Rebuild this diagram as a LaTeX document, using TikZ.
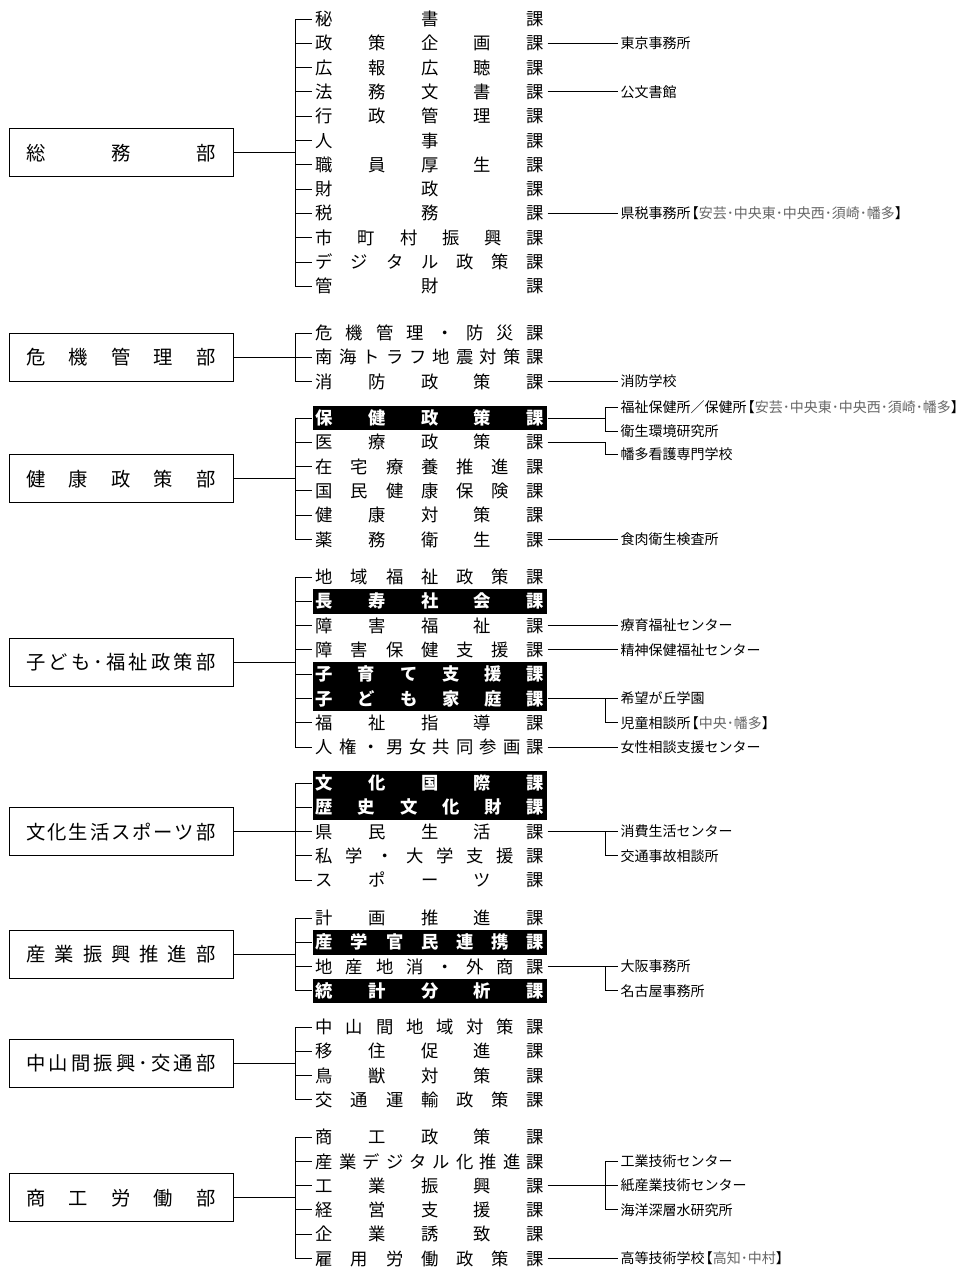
\documentclass[tikz,border=0pt]{standalone}
\usepackage{fontspec}
\setmainfont{Noto Sans CJK JP}
\usetikzlibrary{calc}
\definecolor{subgray}{gray}{0.4}
\def\spreadloop#1#2{#1\ifx\relax#2\expandafter\spreadstop\else\hfill\expandafter\spreadloop\fi#2}
\def\spreadstop#1{}
\newcommand\spreadbox[2]{\makebox[#1]{\expandafter\spreadloop#2\relax}}
\newcommand\bracketsub[1]{\kern-.4em【{\color{subgray}#1}】}

\begin{document}
\begin{tikzpicture}[x=0.75pt,y=-0.75pt,line width=0.75pt,
		ka/.style={anchor=west,minimum height=18.4pt,inner xsep=2.5pt,inner ysep=0pt,font=\fontsize{13pt}{13pt}\selectfont},
		kahi/.style={ka,fill=black,text=white,font=\fontsize{13pt}{13pt}\selectfont\bfseries},
		bu/.style={draw,minimum width=168pt,minimum height=36pt,inner sep=0pt,font=\fontsize{14.5pt}{14.5pt}\selectfont},
		ext/.style={anchor=west,inner xsep=1.5pt,inner ysep=0pt,font=\fontsize{10.5pt}{10.5pt}\selectfont}]
		\useasboundingbox (0,0) rectangle (973,1268);
		\coordinate (R) at (618,0);
		\coordinate (H) at (605,0);
		\foreach \s/\yy/\n/\bu/\rows in {
			1/19/12/総務部/{ka/秘書課,ka/政策企画課,ka/広報広聴課,ka/法務文書課,ka/行政管理課,ka/人事課,ka/職員厚生課,ka/財政課,ka/税務課,ka/市町村振興課,ka/デジタル政策課,ka/管財課},
			2/333/3/危機管理部/{ka/危機管理・防災課,ka/南海トラフ地震対策課,ka/消防政策課},
			3/418/6/健康政策部/{kahi/保健政策課,ka/医療政策課,ka/在宅療養推進課,ka/国民健康保険課,ka/健康対策課,ka/薬務衛生課},
			4/577/8/子ども･福祉政策部/{ka/地域福祉政策課,kahi/長寿社会課,ka/障害福祉課,ka/障害保健支援課,kahi/子育て支援課,kahi/子ども家庭課,ka/福祉指導課,ka/人権・男女共同参画課},
			5/783/5/文化生活スポーツ部/{kahi/文化国際課,kahi/歴史文化財課,ka/県民生活課,ka/私学・大学支援課,ka/スポーツ課},
			6/918/4/産業振興推進部/{ka/計画推進課,kahi/産学官民連携課,ka/地産地消・外商課,kahi/統計分析課},
			7/1027/4/中山間振興･交通部/{ka/中山間地域対策課,ka/移住促進課,ka/鳥獣対策課,ka/交通運輸政策課},
			8/1137/6/商工労働部/{ka/商工政策課,ka/産業デジタル化推進課,ka/工業振興課,ka/経営支援課,ka/企業誘致課,ka/雇用労働政策課}}{
			\node[bu] (B\s) at (121,{\yy+(\n-1)*12.15}) {\spreadbox{141.75pt}{\bu}};
			\coordinate (J\s) at (295,{\yy+(\n-1)*12.15});
			\draw (B\s.east) -- (J\s);
			\foreach \st/\ka [count=\i] in \rows {
				\node[\st] (K\s-\i) at (312,{\yy+(\i-1)*24.3}) {\spreadbox{171pt}{\ka}};
				\draw (J\s |- K\s-\i.west) -- (K\s-\i.west);
			}
			\draw (J\s |- K\s-1.west) -- (J\s |- K\s-\n.west);
		}
		\node[ext] (T1) at (K1-2 -| R) {東京事務所};
		\node[ext] (T2) at (K1-4 -| R) {公文書館};
		\node[ext] (T3) at (K1-9 -| R) {県税事務所\bracketsub{安芸･中央東･中央西･須崎･幡多}};
		\node[ext] (T4) at (K2-3 -| R) {消防学校};
		\node[ext] (T5) at ($(K3-1 -| R)+(0,-11)$) {福祉保健所／保健所\bracketsub{安芸･中央東･中央西･須崎･幡多}};
		\node[ext] (T6) at ($(K3-1 -| R)+(0,13)$) {衛生環境研究所};
		\node[ext] (T7) at ($(K3-2 -| R)+(0,12)$) {幡多看護専門学校};
		\node[ext] (T8) at (K3-6 -| R) {食肉衛生検査所};
		\node[ext] (T9) at (K4-3 -| R) {療育福祉センター};
		\node[ext] (T10) at (K4-4 -| R) {精神保健福祉センター};
		\node[ext] (T11) at (K4-6 -| R) {希望が丘学園};
		\node[ext] (T12) at (K4-7 -| R) {児童相談所\bracketsub{中央･幡多}};
		\node[ext] (T13) at (K4-8 -| R) {女性相談支援センター};
		\node[ext] (T14) at (K5-3 -| R) {消費生活センター};
		\node[ext] (T15) at (K5-4 -| R) {交通事故相談所};
		\node[ext] (T16) at (K6-3 -| R) {大阪事務所};
		\node[ext] (T17) at (K6-4 -| R) {名古屋事務所};
		\node[ext] (T18) at (K8-2 -| R) {工業技術センター};
		\node[ext] (T19) at (K8-3 -| R) {紙産業技術センター};
		\node[ext] (T20) at (K8-4 -| R) {海洋深層水研究所};
		\node[ext] (T21) at (K8-6 -| R) {高等技術学校\bracketsub{高知･中村}};
		\draw (K1-2.east) -- (T1.west);
		\draw (K1-4.east) -- (T2.west);
		\draw (K1-9.east) -- (T3.west);
		\draw (K2-3.east) -- (T4.west);
		\draw (K3-1.east) -- (K3-1.east -| H);
		\draw (T5.west) -| (T6.west -| H) -- (T6.west);
		\draw (K3-2.east) -| (T7.west -| H) -- (T7.west);
		\draw (K3-6.east) -- (T8.west);
		\draw (K4-3.east) -- (T9.west);
		\draw (K4-4.east) -- (T10.west);
		\draw (K4-6.east) -- (T11.west);
		\draw (T11.west -| H) |- (T12.west);
		\draw (K4-8.east) -- (T13.west);
		\draw (K5-3.east) -- (T14.west);
		\draw (T14.west -| H) |- (T15.west);
		\draw (K6-3.east) -- (T16.west);
		\draw (T16.west -| H) |- (T17.west);
		\draw (K8-3.east) -- (T19.west);
		\draw (T18.west) -| (T20.west -| H) -- (T20.west);
		\draw (K8-6.east) -- (T21.west);
\end{tikzpicture}
\end{document}
